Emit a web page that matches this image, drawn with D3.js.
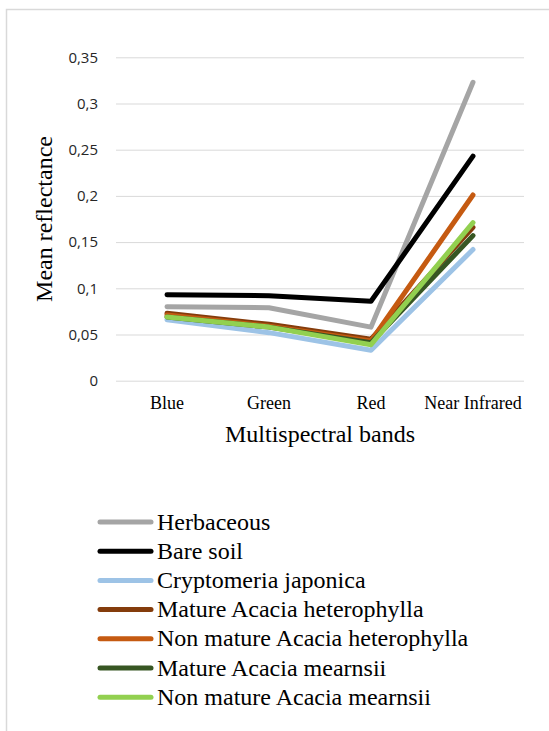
<!DOCTYPE html>
<html>
<head>
<meta charset="utf-8">
<script src="https://cdn.jsdelivr.net/npm/d3@7"></script>
<style>
  body { margin: 0; background: #fff; }
  svg { display: block; }
</style>
</head>
<body>
<svg id="chart" width="549" height="731"></svg>
<script>
// bands and series
var bands = ['Blue', 'Green', 'Red', 'Near Infrared'];
var seriesNames = [
    'Herbaceous',
    'Bare soil',
    'Cryptomeria japonica',
    'Mature Acacia heterophylla',
    'Non mature Acacia heterophylla',
    'Mature Acacia mearnsii',
    'Non mature Acacia mearnsii'
];
var seriesColors = ['#a5a5a5', '#000000', '#9dc3e6', '#843c0c', '#c55a11', '#375623', '#92d050'];
var herbaceous   = [0.080, 0.079, 0.058, 0.323];
var bareSoil     = [0.093, 0.092, 0.086, 0.243];
var cryptomeria  = [0.066, 0.052, 0.033, 0.142];
var matureAH     = [0.073, 0.061, 0.045, 0.166];
var nonMatureAH  = [0.071, 0.059, 0.043, 0.201];
var matureAM     = [0.069, 0.058, 0.041, 0.157];
var nonMatureAM  = [0.069, 0.058, 0.039, 0.171];
var yTicks = [0, 0.05, 0.1, 0.15, 0.2, 0.25, 0.3, 0.35];

var seriesValues = [herbaceous, bareSoil, cryptomeria, matureAH, nonMatureAH, matureAM, nonMatureAM];

var svg = d3.select('#chart');

// outer frame (only top and left edges are visible in the crop)
svg.append('rect')
    .attr('x', 6.5).attr('y', 9.5)
    .attr('width', 700).attr('height', 900)
    .attr('fill', 'none')
    .attr('stroke', '#d9d9d9')
    .attr('stroke-width', 1.5);

var plot = { left: 116, right: 524, top: 57.3, bottom: 380.7 };

var x = d3.scaleBand().domain(bands).range([plot.left, plot.right]).padding(0);
var y = d3.scaleLinear().domain([0, 0.35]).range([plot.bottom, plot.top]);

var locale = d3.formatLocale({ decimal: ',', thousands: '.', grouping: [3], currency: ['', ''] });
var fmt = locale.format('.2~f');

// y axis with gridlines
var yAxis = svg.append('g')
    .attr('transform', 'translate(' + plot.left + ',0)')
    .call(d3.axisLeft(y).tickValues(yTicks).tickFormat(fmt)
        .tickSize(-(plot.right - plot.left)).tickPadding(18));
yAxis.select('.domain').remove();
yAxis.selectAll('.tick line').attr('stroke', '#d9d9d9').attr('stroke-width', 1);
yAxis.selectAll('.tick text')
    .attr('fill', '#262626')
    .style('font-family', '"Open Sans", sans-serif')
    .style('font-size', '15px');

// x axis labels
var xAxis = svg.append('g')
    .attr('transform', 'translate(0,' + plot.bottom + ')')
    .call(d3.axisBottom(x).tickSize(0).tickPadding(16));
xAxis.select('.domain').remove();
xAxis.selectAll('.tick text')
    .attr('fill', '#000')
    .style('font-family', '"Liberation Serif", "Times New Roman", serif')
    .style('font-size', '18px');

// axis titles
svg.append('text')
    .attr('x', (plot.left + plot.right) / 2)
    .attr('y', 442)
    .attr('text-anchor', 'middle')
    .style('font-family', '"Liberation Serif", "Times New Roman", serif')
    .style('font-size', '24px')
    .text('Multispectral bands');

svg.append('text')
    .attr('transform', 'translate(52,' + ((plot.top + plot.bottom) / 2) + ') rotate(-90)')
    .attr('text-anchor', 'middle')
    .style('font-family', '"Liberation Serif", "Times New Roman", serif')
    .style('font-size', '24px')
    .text('Mean reflectance');

// series lines
var line = d3.line()
    .x(function(d, i) { return x(bands[i]) + x.bandwidth() / 2; })
    .y(function(d) { return y(d); });

svg.append('g').selectAll('path')
    .data(seriesValues)
    .enter().append('path')
    .attr('d', line)
    .attr('fill', 'none')
    .attr('stroke', function(d, i) { return seriesColors[i]; })
    .attr('stroke-width', 5)
    .attr('stroke-linecap', 'round')
    .attr('stroke-linejoin', 'round');

// legend
var legend = svg.append('g').attr('transform', 'translate(98,522)');
var rowH = 29.2;
var item = legend.selectAll('g')
    .data(seriesNames)
    .enter().append('g')
    .attr('transform', function(d, i) { return 'translate(0,' + (i * rowH) + ')'; });
item.append('line')
    .attr('x1', 2).attr('x2', 53)
    .attr('y1', 0).attr('y2', 0)
    .attr('stroke', function(d, i) { return seriesColors[i]; })
    .attr('stroke-width', 5)
    .attr('stroke-linecap', 'round');
item.append('text')
    .attr('x', 59)
    .attr('y', 7.5)
    .style('font-family', '"Liberation Serif", "Times New Roman", serif')
    .style('font-size', '24px')
    .text(function(d) { return d; });
</script>
</body>
</html>
